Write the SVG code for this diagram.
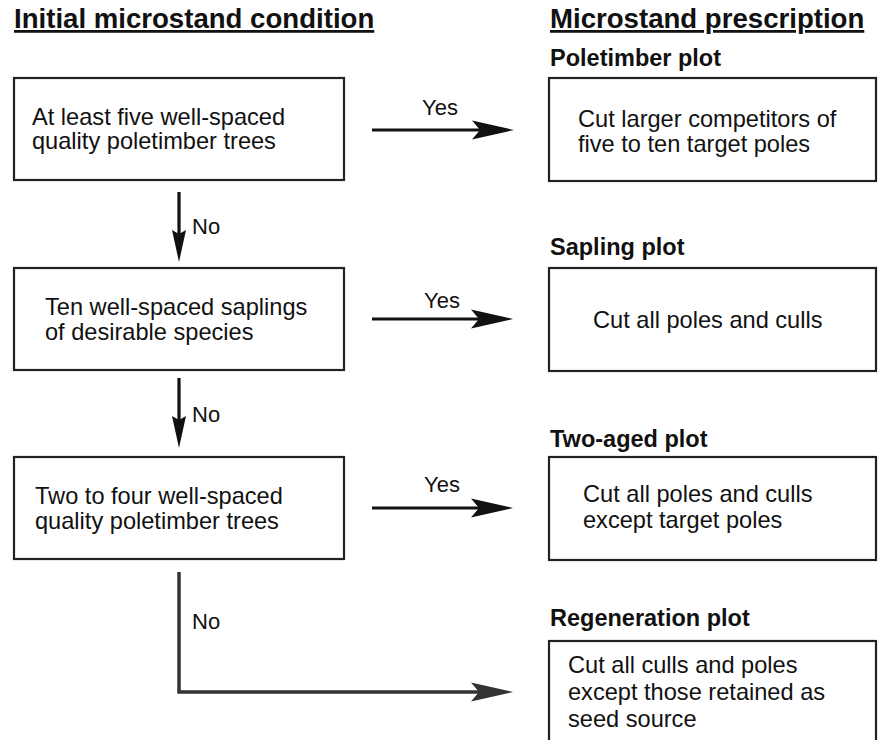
<svg xmlns="http://www.w3.org/2000/svg" width="878" height="740" viewBox="0 0 878 740">
<style>
text{font-family:"Liberation Sans",Arial,sans-serif;fill:#111}
.title{font-size:27.6px;font-weight:bold;text-decoration:underline}
.sub{font-size:23.5px;font-weight:bold}
.body{font-size:23.6px}
.lbl{font-size:22px}
.box{fill:#fff;stroke:#222;stroke-width:2.2}
.conn{fill:none;stroke:#111;stroke-width:3.2}
.conn2{fill:none;stroke:#333;stroke-width:3.5}
</style>
<defs>
<marker id="ah" markerUnits="userSpaceOnUse" markerWidth="60" markerHeight="30" refX="0" refY="0" orient="auto" overflow="visible">
<path d="M20,0 L-22,-9.5 L-14,0 L-22,9.5 Z" fill="#111"/>
</marker>
<marker id="ah2" markerUnits="userSpaceOnUse" markerWidth="60" markerHeight="30" refX="0" refY="0" orient="auto" overflow="visible">
<path d="M20,0 L-22,-9.5 L-14,0 L-22,9.5 Z" fill="#333"/>
</marker>
<marker id="av" markerUnits="userSpaceOnUse" markerWidth="40" markerHeight="20" refX="0" refY="0" orient="auto" overflow="visible">
<path d="M12,0 L-20,-7 L-16,0 L-20,7 Z" fill="#111"/>
</marker>
</defs>

<text class="title" x="14" y="28">Initial microstand condition</text>
<text class="title" x="550" y="28">Microstand prescription</text>

<g id="cond1">
<rect class="box" x="14" y="78" width="330" height="102"/>
<text class="body" x="32" y="125">At least five well-spaced</text>
<text class="body" x="32" y="149">quality poletimber trees</text>
</g>
<g id="cond2">
<rect class="box" x="14" y="268" width="330" height="102"/>
<text class="body" x="45" y="315">Ten well-spaced saplings</text>
<text class="body" x="45" y="340">of desirable species</text>
</g>
<g id="cond3">
<rect class="box" x="14" y="457" width="330" height="102"/>
<text class="body" x="35" y="504">Two to four well-spaced</text>
<text class="body" x="35" y="529">quality poletimber trees</text>
</g>

<g id="presc1">
<text class="sub" x="550" y="66">Poletimber plot</text>
<rect class="box" x="549" y="78" width="327" height="103"/>
<text class="body" x="578" y="127">Cut larger competitors of</text>
<text class="body" x="578" y="152">five to ten target poles</text>
</g>
<g id="presc2">
<text class="sub" x="550" y="255">Sapling plot</text>
<rect class="box" x="549" y="268" width="327" height="103"/>
<text class="body" x="593" y="328">Cut all poles and culls</text>
</g>
<g id="presc3">
<text class="sub" x="550" y="447">Two-aged plot</text>
<rect class="box" x="549" y="457" width="327" height="103"/>
<text class="body" x="583" y="502">Cut all poles and culls</text>
<text class="body" x="583" y="528">except target poles</text>
</g>
<g id="presc4">
<text class="sub" x="550" y="626">Regeneration plot</text>
<rect class="box" x="549" y="641" width="327" height="130"/>
<text class="body" x="568" y="673">Cut all culls and poles</text>
<text class="body" x="568" y="700">except those retained as</text>
<text class="body" x="568" y="727">seed source</text>
</g>

<g id="connectors">
<path class="conn" d="M372,130 H494" marker-end="url(#ah)"/>
<text class="lbl" x="422" y="115">Yes</text>
<path class="conn" d="M372,319 H493" marker-end="url(#ah)"/>
<text class="lbl" x="424" y="308">Yes</text>
<path class="conn" d="M372,508 H493" marker-end="url(#ah)"/>
<text class="lbl" x="424" y="492">Yes</text>
<path class="conn" d="M179,192 V250" marker-end="url(#av)"/>
<text class="lbl" x="192" y="234">No</text>
<path class="conn" d="M179,378 V436" marker-end="url(#av)"/>
<text class="lbl" x="192" y="422">No</text>
<path class="conn2" d="M179,572 V692 H493" marker-end="url(#ah2)"/>
<text class="lbl" x="192" y="629">No</text>
</g>
</svg>
